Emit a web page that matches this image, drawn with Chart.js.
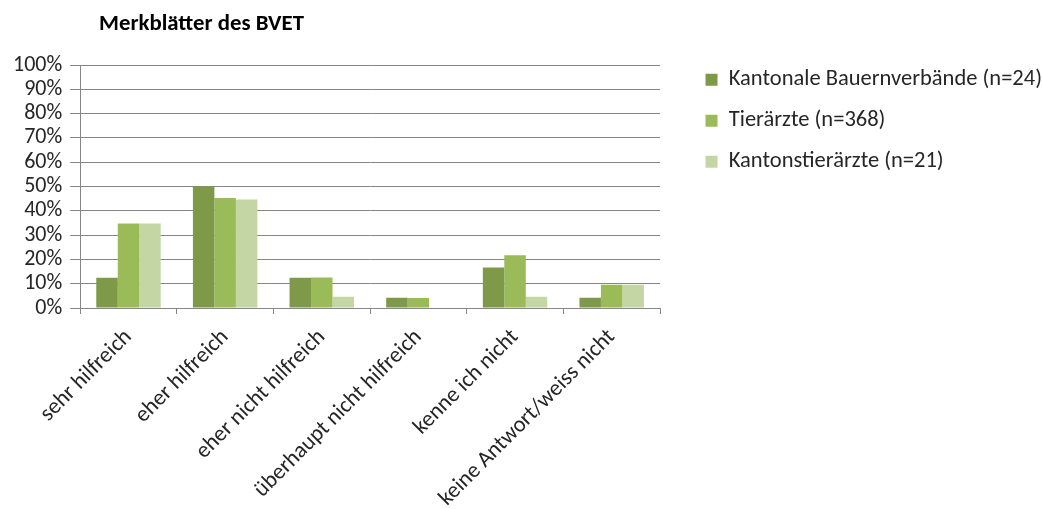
<!DOCTYPE html>
<html>
<head>
<meta charset="utf-8">
<script src="https://cdn.jsdelivr.net/npm/chart.js@4.4.1/dist/chart.umd.min.js"></script>
<style>
html,body{margin:0;padding:0;background:#fff;}
#wrap{width:1042px;height:509px;position:relative;}
</style>
</head>
<body>
<div id="wrap"><canvas id="c" width="1042" height="509"></canvas></div>
<script>
const chartTitle = "Merkblätter des BVET";
const categories = ["sehr hilfreich", "eher hilfreich", "eher nicht hilfreich", "überhaupt nicht hilfreich", "kenne ich nicht", "keine Antwort/weiss nicht"];
const seriesNames = ["Kantonale Bauernverbände (n=24)", "Tierärzte (n=368)", "Kantonstierärzte (n=21)"];
const bauernverbaende = [12.5, 50.0, 12.5, 4.2, 16.7, 4.2];
const tieraerzte = [34.8, 45.3, 12.6, 4.1, 21.7, 9.6];
const kantonstieraerzte = [34.8, 44.7, 4.6, 0, 4.6, 9.6];
const yTicks = [0, 10, 20, 30, 40, 50, 60, 70, 80, 90, 100];

const FONT = "'Carlito','Liberation Sans',Arial,sans-serif";
const textColor = "#262626";
const gridColor = "#868686";

const titlePlugin = {
  id: 'customTitle',
  afterDraw(chart) {
    const ctx = chart.ctx;
    ctx.save();
    ctx.font = "bold 22.8px " + FONT;
    ctx.fillStyle = "#000";
    ctx.textBaseline = "alphabetic";
    ctx.textAlign = "left";
    ctx.fillText(chartTitle, 99, 30);
    ctx.restore();
  }
};

new Chart(document.getElementById('c'), {
  type: 'bar',
  data: {
    labels: categories,
    datasets: [
      { label: seriesNames[0], data: bauernverbaende, backgroundColor: '#7E9A48' },
      { label: seriesNames[1], data: tieraerzte, backgroundColor: '#9BBB59' },
      { label: seriesNames[2], data: kantonstieraerzte, backgroundColor: '#C4D6A4' }
    ]
  },
  options: {
    responsive: false,
    animation: false,
    layout: { padding: { left: 5, top: 50, right: -10, bottom: 0 } },
    datasets: { bar: { categoryPercentage: 0.667, barPercentage: 1.0 } },
    plugins: {
      title: {
        display: true, text: '', fullSize: false,
        font: { size: 10, lineHeight: 1 },
        padding: { top: 5, bottom: 0 }
      },
      legend: {
        position: 'right',
        align: 'start',
        maxWidth: 600,
        labels: {
          boxWidth: 12, boxHeight: 12, padding: 18.5,
          color: textColor,
          font: { family: FONT, size: 22.5 }
        }
      },
      tooltip: { enabled: false }
    },
    scales: {
      x: {
        grid: { display: true, drawOnChartArea: false, offset: true, tickLength: 6, color: gridColor },
        border: { color: gridColor },
        ticks: {
          autoSkip: false, minRotation: 45, maxRotation: 45,
          color: textColor, font: { family: FONT, size: 22.5 }, padding: 10
        },
        afterFit(scale) { scale.height = 201; }
      },
      y: {
        min: 0, max: 100,
        afterBuildTicks(axis) { axis.ticks = yTicks.map(v => ({ value: v })); },
        grid: { color: gridColor, tickLength: 10 },
        border: { color: gridColor },
        ticks: {
          autoSkip: false,
          color: textColor, font: { family: FONT, size: 22 }, padding: 8,
          callback: v => v + '%'
        }
      },
      gap: {
        type: 'linear', position: 'right', display: true,
        grid: { display: false }, border: { display: false },
        ticks: { display: false },
        afterFit(scale) { scale.width = 27; }
      }
    }
  },
  plugins: [titlePlugin]
});
</script>
</body>
</html>
